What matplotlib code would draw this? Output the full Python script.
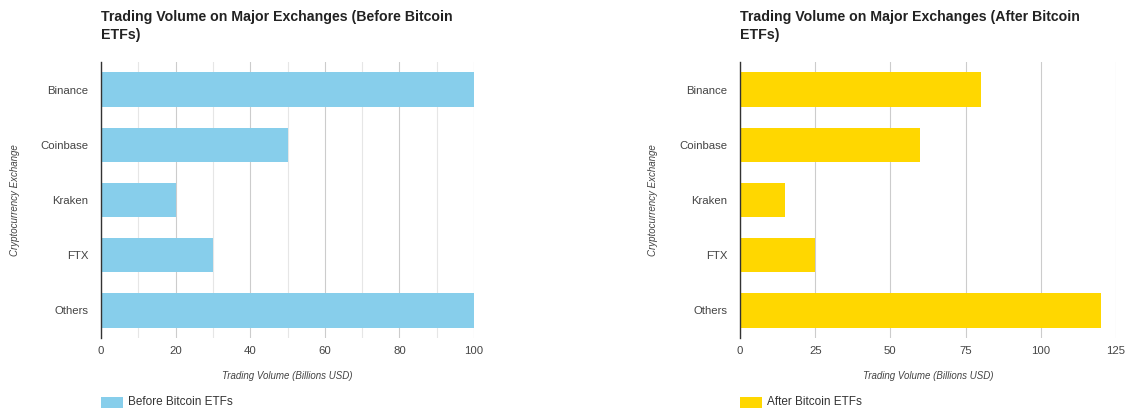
import matplotlib.pyplot as plt
from matplotlib.patches import Rectangle
from matplotlib.ticker import MultipleLocator

exchanges = ["Binance", "Coinbase", "Kraken", "FTX", "Others"]
before_volume = [100, 50, 20, 30, 100]
after_volume = [80, 60, 15, 25, 120]

before_color = "#87CEEB"
after_color = "#FFD700"

plt.rcParams["font.family"] = ["Liberation Sans", "DejaVu Sans"]

W, H = 1127, 408
fig = plt.figure(figsize=(W / 100, H / 100), dpi=100)


def px_axes(x0, x1, y0, y1):
    return fig.add_axes([x0 / W, 1 - y1 / H, (x1 - x0) / W, (y1 - y0) / H])


def draw_panel(x0, x1, values, color, xmax, major, minor, title, legend_label, ylab_x):
    ax = px_axes(x0, x1, 62, 338)
    ax.barh(exchanges, values, height=0.62, color=color, zorder=2)
    ax.set_ylim(4.5, -0.5)
    ax.set_xlim(0, xmax)
    ax.xaxis.set_major_locator(MultipleLocator(major))
    if minor:
        ax.xaxis.set_minor_locator(MultipleLocator(minor))
        ax.grid(axis="x", which="minor", color="#e6e6e6", linewidth=0.8, zorder=0)
    ax.grid(axis="x", which="major", color="#cccccc", linewidth=0.8, zorder=0)
    for s in ["top", "right", "bottom"]:
        ax.spines[s].set_visible(False)
    ax.spines["left"].set_color("#333333")
    ax.spines["left"].set_linewidth(1)
    ax.tick_params(axis="both", which="both", length=0, labelsize=8.2, colors="#444444")
    ax.tick_params(axis="x", pad=6)
    ax.tick_params(axis="y", pad=9)
    ax.set_axisbelow(True)

    fig.text(x0 / W, 1 - 10 / H, title, ha="left", va="top", fontsize=10.2,
             fontweight="bold", color="#222222", linespacing=1.4)
    fig.text((x0 + x1) / 2 / W, 1 - 376 / H, "Trading Volume (Billions USD)",
             ha="center", va="center", fontsize=7, style="italic", color="#444444")
    fig.text(ylab_x / W, 1 - 200 / H, "Cryptocurrency Exchange", rotation=90,
             ha="center", va="center", fontsize=7, style="italic", color="#444444")
    fig.patches.append(Rectangle((x0 / W, 0), 22 / W, 11 / H, transform=fig.transFigure,
                                 facecolor=color, edgecolor="none"))
    fig.text((x0 + 27) / W, 1 - 402 / H, legend_label, ha="left", va="center",
             fontsize=8.5, color="#333333")
    return ax


draw_panel(101, 474, before_volume, before_color, 100, 20, 10,
           "Trading Volume on Major Exchanges (Before Bitcoin\nETFs)",
           "Before Bitcoin ETFs", 15)
draw_panel(740, 1116, after_volume, after_color, 125, 25, None,
           "Trading Volume on Major Exchanges (After Bitcoin\nETFs)",
           "After Bitcoin ETFs", 653)

fig.savefig("out.png", dpi=100)
